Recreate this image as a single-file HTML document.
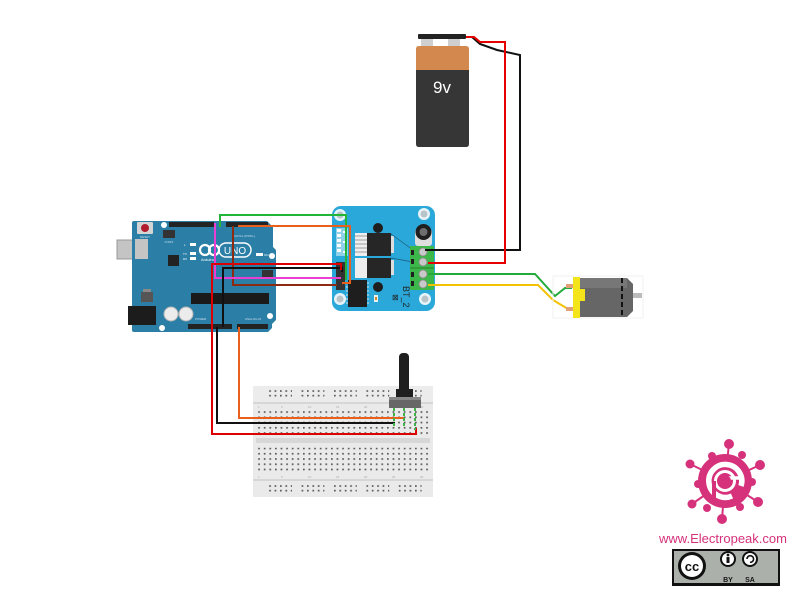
<!DOCTYPE html>
<html><head><meta charset="utf-8"><style>
html,body{margin:0;padding:0;background:#fff;}
svg{display:block;}
text{font-family:"Liberation Sans",sans-serif;}
</style></head><body>
<svg width="800" height="600" viewBox="0 0 800 600" xmlns="http://www.w3.org/2000/svg">
<defs>
<pattern id="bbm" x="258.2" y="411.2" width="5.6" height="5.25" patternUnits="userSpaceOnUse"><rect width="1.7" height="1.7" fill="#5a5a5a"/></pattern>
<pattern id="bbr" x="269.2" y="390.2" width="5.4" height="4.6" patternUnits="userSpaceOnUse"><rect width="1.7" height="1.7" fill="#5a5a5a"/></pattern>
<pattern id="bbr2" x="269.2" y="485.2" width="5.4" height="4.6" patternUnits="userSpaceOnUse"><rect width="1.7" height="1.7" fill="#5a5a5a"/></pattern>
</defs>

<!-- ============ BATTERY ============ -->
<rect x="421" y="37" width="12" height="9" fill="#cfcfcf"/>
<rect x="448" y="37" width="12" height="9" fill="#cfcfcf"/>
<rect x="418" y="34" width="48" height="5" rx="1" fill="#222"/>
<path d="M416,49 Q416,46 419,46 H466 Q469,46 469,49 V71 H416 Z" fill="#d3894d"/>
<path d="M416,70 H469 V144 Q469,147 466,147 H419 Q416,147 416,144 Z" fill="#363636"/>
<text x="442" y="93" font-size="17" fill="#fff" text-anchor="middle">9v</text>

<!-- ============ ARDUINO ============ -->
<rect x="117" y="240" width="31" height="19" fill="#c4c4c4" stroke="#999" stroke-width="1"/>
<path d="M132,223 Q132,221 134,221 H267 L273,227 V247 L276,250 V320 L272,324 V328 L268,332 H134 Q132,332 132,330 Z" fill="#2b7fa6"/>
<rect x="135" y="239" width="13" height="20" fill="#c4c4c4"/>
<rect x="128" y="306" width="28" height="19" fill="#1c1c1c"/>
<rect x="137" y="222" width="16" height="12" rx="1" fill="#d4d4d4"/>
<circle cx="145" cy="228" r="4" fill="#b01c2e"/>
<text x="145" y="238" font-size="3" fill="#cde" text-anchor="middle">RESET</text>
<circle cx="164" cy="225" r="3" fill="#fff"/>
<circle cx="272" cy="256" r="3" fill="#fff"/>
<circle cx="162" cy="328" r="3" fill="#fff"/>
<circle cx="270" cy="316" r="3" fill="#fff"/>
<rect x="169" y="222" width="45" height="5" fill="#232323"/>
<rect x="226" y="222" width="42" height="5" fill="#232323"/>
<rect x="163" y="230" width="12" height="8" fill="#333"/>
<text x="169" y="243" font-size="3" fill="#cde" text-anchor="middle">ICSP2</text>
<rect x="168" y="255" width="11" height="11" fill="#222"/>
<rect x="190" y="243" width="6" height="3" fill="#fff"/>
<rect x="190" y="252" width="6" height="3" fill="#fff"/>
<rect x="190" y="257" width="6" height="3" fill="#fff"/>
<text x="184" y="246" font-size="3" fill="#fff">L</text>
<text x="183" y="255" font-size="3" fill="#fff">TX</text>
<text x="183" y="260" font-size="3" fill="#fff">RX</text>
<rect x="256" y="253" width="7" height="3" fill="#fff"/>
<text x="264" y="256" font-size="3" fill="#fff">ON</text>
<circle cx="205" cy="250" r="5" fill="none" stroke="#fff" stroke-width="2.2"/>
<circle cx="214" cy="250" r="5" fill="none" stroke="#fff" stroke-width="2.2"/>
<rect x="219" y="243" width="32" height="14" rx="7" fill="none" stroke="#fff" stroke-width="1.4"/>
<text x="235" y="254" font-size="10" fill="#fff" text-anchor="middle">UNO</text>
<text x="201" y="261" font-size="4" fill="#fff">Arduino</text>
<text x="232" y="237" font-size="3" fill="#cde">DIGITAL (PWM~)</text>
<rect x="141" y="292" width="12" height="10" fill="#555"/>
<rect x="143" y="289" width="8" height="3" fill="#888"/>
<rect x="191" y="293" width="78" height="11" fill="#1a1a1a"/>
<circle cx="171" cy="314" r="7" fill="#ececec" stroke="#b5b5b5" stroke-width="1"/>
<circle cx="186" cy="314" r="7" fill="#ececec" stroke="#b5b5b5" stroke-width="1"/>
<rect x="262" y="270" width="11" height="8" fill="#333"/>
<rect x="188" y="324" width="44" height="5" fill="#232323"/>
<rect x="237" y="324" width="31" height="5" fill="#232323"/>
<text x="195" y="320" font-size="3" fill="#cde">POWER</text>
<text x="245" y="320" font-size="3" fill="#cde">ANALOG IN</text>

<!-- ============ MOTOR DRIVER ============ -->
<rect x="332" y="206" width="103" height="105" rx="9" fill="#2ba8da"/>
<circle cx="340" cy="215" r="6" fill="#e6f4fa"/><circle cx="340" cy="215" r="3.5" fill="#b9c4c8"/>
<circle cx="424" cy="214" r="6" fill="#e6f4fa"/><circle cx="424" cy="214" r="3.5" fill="#b9c4c8"/>
<circle cx="340" cy="299" r="6" fill="#e6f4fa"/><circle cx="340" cy="299" r="3.5" fill="#b9c4c8"/>
<circle cx="425" cy="299" r="6" fill="#e6f4fa"/><circle cx="425" cy="299" r="3.5" fill="#b9c4c8"/>
<rect x="336" y="228" width="12" height="28" fill="#8fd0ea"/>
<g fill="#fff"><rect x="337" y="229" width="4" height="3"/><rect x="337" y="234" width="4" height="3"/><rect x="337" y="239" width="4" height="3"/><rect x="337" y="244" width="4" height="3"/><rect x="337" y="249" width="4" height="3"/><rect x="343" y="231" width="4" height="2"/><rect x="343" y="241" width="4" height="2"/><rect x="343" y="251" width="4" height="2"/></g>
<rect x="336" y="262" width="9" height="28" fill="#333"/>
<circle cx="378" cy="228" r="5" fill="#1e1e1e"/>
<circle cx="378" cy="287" r="5" fill="#1e1e1e"/>
<rect x="355" y="233" width="13" height="23" fill="#eee"/>
<g stroke="#888" stroke-width="0.8"><line x1="355" y1="236" x2="368" y2="236"/><line x1="355" y1="240" x2="368" y2="240"/><line x1="355" y1="244" x2="368" y2="244"/><line x1="355" y1="248" x2="368" y2="248"/><line x1="355" y1="252" x2="368" y2="252"/>
<line x1="355" y1="261" x2="368" y2="261"/><line x1="355" y1="265" x2="368" y2="265"/><line x1="355" y1="269" x2="368" y2="269"/><line x1="355" y1="273" x2="368" y2="273"/></g>
<rect x="367" y="233" width="24" height="23" fill="#262626"/>
<rect x="355" y="258" width="13" height="20" fill="#eee"/>
<rect x="367" y="258" width="24" height="20" fill="#262626"/>
<rect x="391" y="236" width="3" height="17" fill="#ddd"/>
<rect x="391" y="260" width="3" height="15" fill="#ddd"/>
<line x1="391" y1="234" x2="413" y2="250" stroke="#1a5a78" stroke-width="0.7"/>
<line x1="391" y1="258" x2="413" y2="262" stroke="#1a5a78" stroke-width="0.7"/>
<rect x="348" y="280" width="19" height="27" fill="#1e1e1e"/>
<g stroke="#ddd" stroke-width="1"><line x1="346" y1="283" x2="348" y2="283"/><line x1="346" y1="287" x2="348" y2="287"/><line x1="346" y1="291" x2="348" y2="291"/><line x1="346" y1="295" x2="348" y2="295"/><line x1="346" y1="299" x2="348" y2="299"/><line x1="346" y1="303" x2="348" y2="303"/>
<line x1="367" y1="283" x2="369" y2="283"/><line x1="367" y1="287" x2="369" y2="287"/><line x1="367" y1="291" x2="369" y2="291"/><line x1="367" y1="295" x2="369" y2="295"/><line x1="367" y1="299" x2="369" y2="299"/><line x1="367" y1="303" x2="369" y2="303"/></g>
<rect x="374" y="295" width="4" height="7" fill="#eee"/><rect x="375" y="297" width="2" height="3" fill="#d4892e"/>
<rect x="415" y="229" width="17" height="17" rx="3" fill="#dedede"/>
<circle cx="423.5" cy="232" r="8" fill="#1f1f1f"/>
<circle cx="423.5" cy="232" r="4" fill="#6e6e6e"/>
<rect x="410" y="246" width="24" height="44" fill="#3cb84a"/>
<line x1="410" y1="268" x2="434" y2="268" stroke="#2a8a35" stroke-width="1.2"/>
<rect x="411" y="250" width="3" height="5" fill="#1f1f1f"/><rect x="411" y="259" width="3" height="5" fill="#1f1f1f"/><rect x="411" y="272" width="3" height="5" fill="#1f1f1f"/><rect x="411" y="281" width="3" height="5" fill="#1f1f1f"/>
<g fill="#c9c9c9" stroke="#8a8a8a" stroke-width="0.8"><circle cx="423" cy="252" r="4"/><circle cx="423" cy="262" r="4"/><circle cx="423" cy="274" r="4"/><circle cx="423" cy="284" r="4"/></g>
<text x="0" y="0" font-size="9" fill="#222" transform="translate(403,286) rotate(90)">BT_2</text>
<text x="392" y="300" font-size="8" fill="#222">⊠</text>

<!-- ============ BREADBOARD ============ -->
<rect x="253" y="386" width="180" height="111" fill="#eaeaea"/>
<rect x="253" y="386" width="180" height="16" fill="#ececec"/>
<line x1="253" y1="403" x2="433" y2="403" stroke="#d0d0d0" stroke-width="1.5"/>
<rect x="256" y="438" width="174" height="5" fill="#d7d7d7"/>
<line x1="253" y1="480" x2="433" y2="480" stroke="#d0d0d0" stroke-width="1.5"/>
<g fill="url(#bbr)">
<rect x="269" y="390" width="23" height="7"/><rect x="301.4" y="390" width="23" height="7"/><rect x="333.8" y="390" width="23" height="7"/><rect x="366.2" y="390" width="23" height="7"/><rect x="398.6" y="390" width="23" height="7"/>
</g>
<g fill="url(#bbr2)">
<rect x="269" y="485" width="23" height="7"/><rect x="301.4" y="485" width="23" height="7"/><rect x="333.8" y="485" width="23" height="7"/><rect x="366.2" y="485" width="23" height="7"/><rect x="398.6" y="485" width="23" height="7"/>
</g>
<rect x="258" y="411" width="171" height="25" fill="url(#bbm)"/>
<rect x="258" y="448" width="171" height="25" fill="url(#bbm)" transform="translate(0,-0.3)"/>
<g font-size="3" fill="#aaa"><text x="258" y="408">1</text><text x="281" y="408">5</text><text x="308" y="408">10</text><text x="336" y="408">15</text><text x="364" y="408">20</text><text x="392" y="408">25</text><text x="420" y="408">30</text>
<text x="258" y="478">1</text><text x="281" y="478">5</text><text x="308" y="478">10</text><text x="336" y="478">15</text><text x="364" y="478">20</text><text x="392" y="478">25</text><text x="420" y="478">30</text></g>

<!-- ============ WIRES ============ -->
<g fill="none" stroke-width="2" stroke-linejoin="miter">
<path d="M472,37 L480,44 L497,50 L520,55 V250 H425" stroke="#111"/>
<path d="M466,37 H474 L480,42 H505 V263 H428" stroke="#e60000"/>
<path d="M428,274 H535 L555,296 L565,288 H572" stroke="#22ab3a"/>
<path d="M428,285 H538 L553,300 L568,309" stroke="#f2c200"/>
<path d="M220,227 V215 H346 V280" stroke="#22b53a"/>
<path d="M238,226 H350 V283 H342" stroke="#e8601c"/>
<path d="M233,226 V285 H337" stroke="#8e2a10"/>
<path d="M215,223 V278 H341" stroke="#ea3fd2"/>
<path d="M223,327 V268 H342 V272" stroke="#111"/>
<path d="M341,270 V264 H212 V434 H416 V428" stroke="#dd0000"/>
<path d="M217,327 V423 H395" stroke="#111"/>
<path d="M239,327 V418 H404" stroke="#e8601c"/>
</g>

<!-- ============ POTENTIOMETER ============ -->
<rect x="399" y="353" width="10" height="40" rx="4" fill="#1f1f1f"/>
<rect x="396" y="389" width="17" height="9" fill="#1f1f1f"/>
<rect x="389" y="397" width="32" height="11" fill="#676767"/>
<rect x="389" y="397" width="32" height="3" fill="#888"/>
<g stroke="#3fb34a" stroke-width="2" stroke-dasharray="3,2"><line x1="394" y1="408" x2="394" y2="428"/><line x1="404" y1="408" x2="404" y2="428"/><line x1="415" y1="408" x2="415" y2="430"/></g>

<!-- ============ MOTOR ============ -->
<rect x="553" y="276" width="90" height="42" fill="none" stroke="#f2f2f2" stroke-width="1"/>
<path d="M580,278 H627 L633,284 V311 L627,317 H580 Z" fill="#666"/>
<rect x="580" y="278" width="47" height="10" fill="#777"/>
<line x1="622" y1="278" x2="622" y2="317" stroke="#111" stroke-width="2" stroke-dasharray="5,3"/>
<rect x="633" y="293" width="9" height="5" fill="#bbb"/>
<rect x="573" y="277" width="7" height="41" fill="#f3e51a"/>
<rect x="575" y="289" width="10" height="12" fill="#f3e51a"/>
<rect x="566" y="284" width="7" height="4" fill="#e0a077"/>
<rect x="566" y="307" width="7" height="4" fill="#e0a077"/>

<!-- ============ ELECTROPEAK LOGO ============ -->
<g fill="#d6317b">
<g stroke="#d6317b" stroke-width="2">
<line x1="725" y1="481" x2="729" y2="444"/><line x1="725" y1="481" x2="760" y2="465"/><line x1="725" y1="481" x2="758" y2="502"/><line x1="725" y1="481" x2="722" y2="519"/><line x1="725" y1="481" x2="692" y2="504"/><line x1="725" y1="481" x2="690" y2="464"/>
</g>
<circle cx="729" cy="444" r="5"/><circle cx="760" cy="465" r="5"/><circle cx="758" cy="502" r="5"/><circle cx="722" cy="519" r="5"/><circle cx="692" cy="504" r="4.5"/><circle cx="690" cy="464" r="4.5"/>
<circle cx="712" cy="456" r="4"/><circle cx="742" cy="455" r="4"/><circle cx="752" cy="482" r="4"/><circle cx="740" cy="507" r="4"/><circle cx="707" cy="508" r="4"/><circle cx="698" cy="484" r="4"/>
<circle cx="725" cy="481" r="27"/>
</g>
<path d="M732,496 A16.5,16.5 0 1 1 741,486" fill="none" stroke="#fff" stroke-width="5.5"/>
<line x1="726" y1="478" x2="743" y2="478" stroke="#fff" stroke-width="3.5"/>
<circle cx="725" cy="481" r="9.5" fill="none" stroke="#fff" stroke-width="3"/>
<circle cx="725" cy="481" r="6" fill="#d6317b"/>
<rect x="712" y="481" width="4" height="17" fill="#d6317b"/>
<text x="659" y="543" font-size="13" fill="#d6317b" textLength="128" lengthAdjust="spacingAndGlyphs">www.Electropeak.com</text>

<!-- ============ CC BADGE ============ -->
<rect x="672" y="549" width="108" height="37" fill="#111"/>
<rect x="674" y="551" width="104" height="32" fill="#abb1aa"/>
<circle cx="692" cy="566" r="14" fill="#111"/>
<circle cx="692" cy="566" r="11" fill="#fff"/>
<text x="692" y="571" font-size="13" font-weight="bold" fill="#111" text-anchor="middle">cc</text>
<circle cx="728" cy="559" r="8" fill="#111"/><circle cx="728" cy="559" r="6" fill="#fff"/>
<circle cx="728" cy="555" r="1.4" fill="#111"/><rect x="726.5" y="557" width="3" height="6" fill="#111"/>
<circle cx="750" cy="559" r="8" fill="#111"/><circle cx="750" cy="559" r="6" fill="#fff"/>
<path d="M747,559 A3.3,3.3 0 1 1 750,562.3" fill="none" stroke="#111" stroke-width="1.6"/>
<text x="728" y="582" font-size="7" font-weight="bold" fill="#111" text-anchor="middle">BY</text>
<text x="750" y="582" font-size="7" font-weight="bold" fill="#111" text-anchor="middle">SA</text>
</svg>
</body></html>
